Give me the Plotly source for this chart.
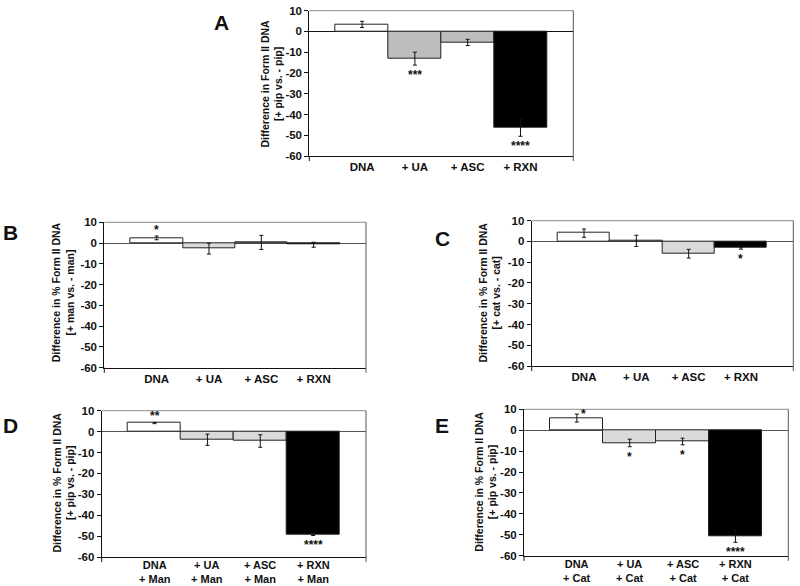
import plotly.graph_objects as go

# ---------------- data ----------------
cats_plain = ["DNA", "+ UA", "+ ASC", "+ RXN"]
sub_man = ["+ Man", "+ Man", "+ Man", "+ Man"]
sub_cat = ["+ Cat", "+ Cat", "+ Cat", "+ Cat"]

a_vals = [3.4, -13.1, -5.3, -46.3]
a_errs = [1.5, 3.1, 1.5, 4.2]
a_stars = ["", "***", "", "****"]

b_vals = [2.5, -2.7, 0.3, -0.8]
b_errs = [0.9, 2.6, 3.4, 1.2]
b_stars = ["*", "", "", ""]

c_vals = [4.0, 0.3, -5.9, -3.2]
c_errs = [2.0, 2.7, 2.1, 0.5]
c_stars = ["", "", "", "*"]

d_vals = [4.1, -3.9, -4.5, -49.3]
d_errs = [0.3, 2.7, 3.0, 0.4]
d_stars = ["**", "", "", "****"]

e_vals = [5.8, -6.1, -5.4, -50.6]
e_errs = [1.9, 1.8, 1.6, 3.0]
e_stars = ["*", "*", "*", "****"]

y_ticks = [10, 0, -10, -20, -30, -40, -50, -60]

# ---------------- styling ----------------
W, H = 800, 586
FONT = "Liberation Sans, Arial, sans-serif"
dark_gray_A = "#bdbdbd"
light_gray = "#dadada"


def fx(px):
    return px / W


def fy(py):
    return 1 - py / H


panels = [
    dict(letter="A", sfx="", vals=a_vals, errs=a_errs, stars=a_stars, sub=None,
         colors=["white", dark_gray_A, dark_gray_A, "black"],
         xpx=(309.3, 573.3), ypx=(10.7, 156.0),
         title="Difference in Form II DNA<br>[+ pip vs. - pip]", tpos=(271.5, 84), lpos=(221, 22),
         zcol="#111111", lab_shift=0),
    dict(letter="B", sfx="2", vals=b_vals, errs=b_errs, stars=b_stars, sub=None,
         colors=["white", light_gray, light_gray, "black"],
         xpx=(104.3, 366.0), ypx=(222.3, 367.7),
         title="Difference in % Form II DNA<br>[+ man vs. - man]", tpos=(63.3, 292), lpos=(10, 232),
         zcol="#555555", lab_shift=0),
    dict(letter="C", sfx="3", vals=c_vals, errs=c_errs, stars=c_stars, sub=None,
         colors=["white", light_gray, light_gray, "black"],
         xpx=(531.7, 793.3), ypx=(220.7, 366.0),
         title="Difference in % Form II DNA<br>[+ cat vs. - cat]", tpos=(490, 292.5), lpos=(442, 238),
         zcol="#555555", lab_shift=0),
    dict(letter="D", sfx="4", vals=d_vals, errs=d_errs, stars=d_stars, sub=sub_man,
         colors=["white", light_gray, light_gray, "black"],
         xpx=(101.7, 366.0), ypx=(410.7, 557.0),
         title="Difference in % Form II DNA<br>[+ pip vs. - pip]", tpos=(63.5, 483), lpos=(10, 425),
         zcol="#555555", lab_shift=-14.5),
    dict(letter="E", sfx="5", vals=e_vals, errs=e_errs, stars=e_stars, sub=sub_cat,
         colors=["white", light_gray, light_gray, "black"],
         xpx=(524.0, 788.3), ypx=(409.3, 555.7),
         title="Difference in % Form II DNA<br>[+ pip vs. - pip]", tpos=(485.7, 482), lpos=(442, 425),
         zcol="#555555", lab_shift=-15),
]

fig = go.Figure()
annotations = []
shapes = []
layout_axes = {}
star_font = dict(family=FONT, size=12, color="#111111", weight="bold")
lab_font = dict(family=FONT, size=11.5, color="#111111", weight="bold")

for p in panels:
    sfx = p["sfx"]
    xa = "x" + sfx
    ya = "y" + sfx
    cats = cats_plain
    fig.add_trace(go.Bar(
        x=cats, y=p["vals"],
        marker=dict(color=p["colors"], line=dict(color="#222222", width=1)),
        error_y=dict(type="data", array=p["errs"], visible=True,
                     color="#111111", thickness=1, width=2),
        xaxis=xa, yaxis=ya, showlegend=False, hoverinfo="skip",
    ))
    x0, x1 = p["xpx"]
    yt, yb = p["ypx"]
    layout_axes["xaxis" + sfx] = dict(
        domain=[fx(x0), fx(x1)], anchor=ya, type="category",
        categoryorder="array", categoryarray=cats,
        range=[-1, 4], showline=True, linecolor="#111111", linewidth=1,
        ticks="", showgrid=False, zeroline=False, fixedrange=True, automargin=False,
        showticklabels=p["sub"] is None,
        tickfont=lab_font,
    )
    layout_axes["yaxis" + sfx] = dict(
        domain=[fy(yb), fy(yt)], anchor=xa,
        range=[-60, 10], tickvals=y_ticks, ticktext=[str(v) for v in y_ticks],
        showline=True, linecolor="#111111", linewidth=1,
        ticks="outside", ticklen=4, tickcolor="#111111",
        showgrid=False, zeroline=True, zerolinecolor=p["zcol"], zerolinewidth=1,
        fixedrange=True, automargin=False,
        tickfont=lab_font,
    )
    shapes.append(dict(type="line", xref=xa + " domain", yref=ya + " domain",
                       x0=0, x1=1, y0=1, y1=1, line=dict(color="#8a8a8a", width=1)))
    shapes.append(dict(type="line", xref=xa + " domain", yref=ya + " domain",
                       x0=1, x1=1, y0=-0.035, y1=1, line=dict(color="#555555", width=1)))
    shapes.append(dict(type="line", xref=xa + " domain", yref=ya + " domain",
                       x0=0, x1=0, y0=-0.035, y1=0, line=dict(color="#111111", width=1)))
    # two-line category labels for D / E
    if p["sub"]:
        for c, s in zip(cats, p["sub"]):
            annotations.append(dict(x=c, y=0, xref=xa, yref=ya + " domain",
                                    text=c + "<br>" + s,
                                    showarrow=False, xanchor="center", yanchor="middle",
                                    yshift=p["lab_shift"], borderpad=0,
                                    font=dict(family=FONT, size=11, color="#111111", weight="bold")))
    for c, v, e, s in zip(cats, p["vals"], p["errs"], p["stars"]):
        if not s:
            continue
        if v >= 0:
            if p["letter"] == "E":
                annotations.append(dict(x=c, y=v + e, xref=xa, yref=ya, text=s,
                                        showarrow=False, xanchor="left", yanchor="middle",
                                        xshift=2, yshift=0, font=star_font))
            else:
                annotations.append(dict(x=c, y=v + e, xref=xa, yref=ya, text=s,
                                        showarrow=False, yanchor="bottom", yshift=-3,
                                        font=star_font))
        else:
            annotations.append(dict(x=c, y=v - e, xref=xa, yref=ya, text=s,
                                    showarrow=False, yanchor="top", yshift=-1,
                                    font=star_font))
    tx, ty = p["tpos"]
    annotations.append(dict(x=fx(tx), y=fy(ty), xref="paper", yref="paper",
                            text=p["title"], showarrow=False, textangle=-90,
                            xanchor="center", yanchor="middle",
                            font=dict(family=FONT, size=10.5, color="#111111", weight="bold")))
    lx, ly = p["lpos"]
    annotations.append(dict(x=fx(lx), y=fy(ly), xref="paper", yref="paper",
                            text=p["letter"], showarrow=False,
                            xanchor="center", yanchor="middle",
                            font=dict(family=FONT, size=21, color="#111111", weight="bold")))

fig.update_layout(
    width=W, height=H,
    margin=dict(l=0, r=0, t=0, b=0, autoexpand=False),
    paper_bgcolor="white", plot_bgcolor="white",
    bargap=0,
    showlegend=False,
    annotations=annotations,
    shapes=shapes,
    **layout_axes,
)

fig.write_html(
    "out.html",
    config={"displayModeBar": False},
    post_script="document.body.style.margin='0';document.body.style.padding='0';"
                "document.documentElement.style.overflow='hidden';",
)
